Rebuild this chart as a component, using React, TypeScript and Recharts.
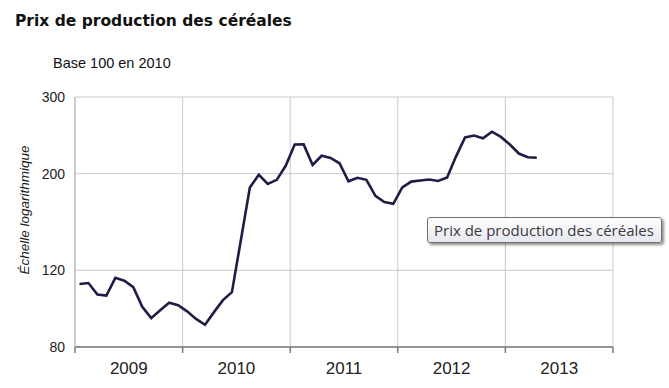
import React from 'react';
import { LineChart, Line, XAxis, YAxis, CartesianGrid } from 'recharts';

const title = 'Prix de production des céréales';
const subtitle = 'Base 100 en 2010';
const yAxisTitle = 'Échelle logarithmique';
const seriesName = 'Prix de production des céréales';

const startYear = 2009;
const yearTicks = [2009, 2010, 2011, 2012, 2013, 2014];
const yTicks = [80, 120, 200, 300];

// Monthly index values, Jan 2009 – Apr 2013
const values = [
  111.6, 112.2, 105.6, 105.0, 115.3, 113.6, 109.8, 99.0, 93.2, 97.2, 101.1, 99.8,
  96.6, 92.8, 90.0, 96.2, 102.5, 106.9, 140.9, 186.0, 198.9, 189.5, 193.6, 208.5,
  233.3, 233.5, 209.5, 219.9, 217.3, 211.3, 192.1, 195.7, 193.6, 177.8, 172.2, 170.6,
  186.0, 191.8, 192.9, 193.9, 192.4, 196.0, 219.2, 242.3, 244.7, 241.1, 249.7, 242.9,
  233.3, 222.5, 218.1, 217.6,
];

const data = values.map((v, i) => ({ t: startYear + (i + 0.5) / 12, value: v }));

const W = 669;
const H = 388;
const M = { top: 97, right: 56, left: 15, bottom: 11 };
const Y_AXIS_W = 60;
const PLOT_W = W - M.left - M.right - Y_AXIS_W;
const YEAR_W = PLOT_W / (yearTicks.length - 1);

const XTick = (props: any) => {
  const { x, y, payload, index } = props;
  if (index === yearTicks.length - 1) return null;
  return (
    <text
      x={x + YEAR_W / 2}
      y={y + 19}
      textAnchor="middle"
      fontFamily="'Liberation Sans', Arial, sans-serif"
      fontSize={17}
      fill="#222"
    >
      {payload.value}
    </text>
  );
};

const YLabel = (props: any) => {
  const vb = props.viewBox || { y: M.top, height: 250 };
  const cy = vb.y + vb.height / 2 - 12;
  return (
    <text
      transform={`translate(29, ${cy}) rotate(-90)`}
      textAnchor="middle"
      fontFamily="'Liberation Sans', Arial, sans-serif"
      fontStyle="italic"
      fontSize={13.5}
      fill="#1a1a1a"
    >
      {yAxisTitle}
    </text>
  );
};

export default function App() {
  return (
    <div
      style={{
        position: 'absolute',
        left: 0,
        top: 0,
        width: W,
        height: H,
        background: '#fff',
        overflow: 'hidden',
      }}
    >
      <div
        style={{
          position: 'absolute',
          left: 15,
          top: 12,
          fontFamily: "'DejaVu Sans', Verdana, sans-serif",
          fontWeight: 'bold',
          fontSize: 15.5,
          color: '#111',
          whiteSpace: 'nowrap',
        }}
      >
        {title}
      </div>
      <div
        style={{
          position: 'absolute',
          left: 53,
          top: 55,
          fontFamily: "'Liberation Sans', Arial, sans-serif",
          fontSize: 14.5,
          color: '#111',
          whiteSpace: 'nowrap',
        }}
      >
        {subtitle}
      </div>
      <LineChart width={W} height={H} data={data} margin={M}>
        <CartesianGrid stroke="#c9c9c9" strokeWidth={1} />
        <XAxis
          dataKey="t"
          type="number"
          domain={[yearTicks[0], yearTicks[yearTicks.length - 1]]}
          ticks={yearTicks}
          interval={0}
          height={30}
          tickSize={6}
          tickMargin={2}
          stroke="#7a7a7a"
          strokeWidth={1.5}
          tick={<XTick />}
          allowDataOverflow
        />
        <YAxis
          type="number"
          scale="log"
          domain={[80, 300]}
          ticks={yTicks}
          interval={0}
          width={Y_AXIS_W}
          tickSize={0}
          tickMargin={10}
          tickLine={false}
          stroke="#b0b0b0"
          allowDataOverflow
          tick={{ fontFamily: "'Liberation Sans', Arial, sans-serif", fontSize: 14, fill: '#222' }}
          label={<YLabel />}
        />
        <Line
          type="linear"
          dataKey="value"
          name={seriesName}
          stroke="#1d1d45"
          strokeWidth={2.6}
          dot={false}
          isAnimationActive={false}
        />
      </LineChart>
      <div
        style={{
          position: 'absolute',
          left: 427,
          top: 217,
          width: 227,
          height: 24,
          border: '1px solid #707070',
          borderRadius: 3,
          background: 'linear-gradient(#ffffff, #e6e7f0)',
          boxShadow: '2px 2px 3px rgba(0,0,0,0.45)',
          fontFamily: "'Open Sans', 'Noto Sans', sans-serif",
          fontSize: 15,
          color: '#3a3a3a',
          lineHeight: '24px',
          paddingLeft: 6,
          boxSizing: 'content-box',
          whiteSpace: 'nowrap',
        }}
      >
        {seriesName}
      </div>
    </div>
  );
}
